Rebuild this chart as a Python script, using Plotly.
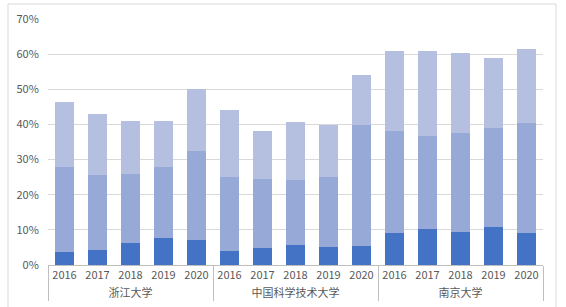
import plotly.graph_objects as go

universities = ["浙江大学", "中国科学技术大学", "南京大学"]
years = ["2016", "2017", "2018", "2019", "2020"]

# segment values (percent), per university x year
seg_dark = [3.7, 4.4, 6.3, 7.7, 7.1,
            4.1, 4.7, 5.7, 5.0, 5.4,
            9.2, 10.3, 9.5, 10.9, 9.2]
seg_mid = [24.3, 21.3, 19.7, 20.3, 25.2,
           20.8, 19.9, 18.6, 20.1, 34.3,
           28.8, 26.3, 28.2, 28.2, 31.1]
seg_light = [18.3, 17.2, 14.9, 13.1, 17.9,
             19.1, 13.4, 16.3, 14.6, 14.3,
             22.9, 24.3, 22.5, 19.8, 21.1]

x_groups = [u for u in universities for _ in years]
x_years = [y for _ in universities for y in years]

colors = ["#4472C4", "#97A9D7", "#B5C0E1"]

fig = go.Figure()
for vals, c in zip([seg_dark, seg_mid, seg_light], colors):
    fig.add_trace(go.Bar(x=[x_groups, x_years], y=vals, marker_color=c,
                         marker_line_width=0, showlegend=False))

fig.update_layout(
    width=566, height=307,
    barmode="stack", bargap=0.4,
    margin=dict(l=48, r=23, t=19, b=42, autoexpand=False),
    plot_bgcolor="white", paper_bgcolor="white",
    font=dict(family="Noto Sans CJK SC, sans-serif", size=11, color="#595959"),
    xaxis=dict(showline=True, linecolor="#BFBFBF", linewidth=1, automargin=False,
               showdividers=True, dividercolor="#BFBFBF", dividerwidth=1,
               tickfont=dict(size=11, color="#595959"), tickangle=0,
               ticks="outside", ticklen=3, tickcolor="rgba(0,0,0,0)"),
    yaxis=dict(range=[0, 70], dtick=10, ticksuffix="%", showgrid=True,
               gridcolor="#D9D9D9", gridwidth=1, zeroline=False, automargin=False,
               ticks="outside", ticklen=6, tickcolor="rgba(0,0,0,0)",
               tickfont=dict(size=11, color="#595959")),
    shapes=[dict(type="rect", xref="paper", yref="paper",
                 x0=(8 - 48) / 495, x1=(556 - 48) / 495,
                 y0=(265 - 312) / 246, y1=(265 - 4) / 246,
                 line=dict(color="#D9D9D9", width=1), layer="below")],
)

fig.write_html("out.html")
